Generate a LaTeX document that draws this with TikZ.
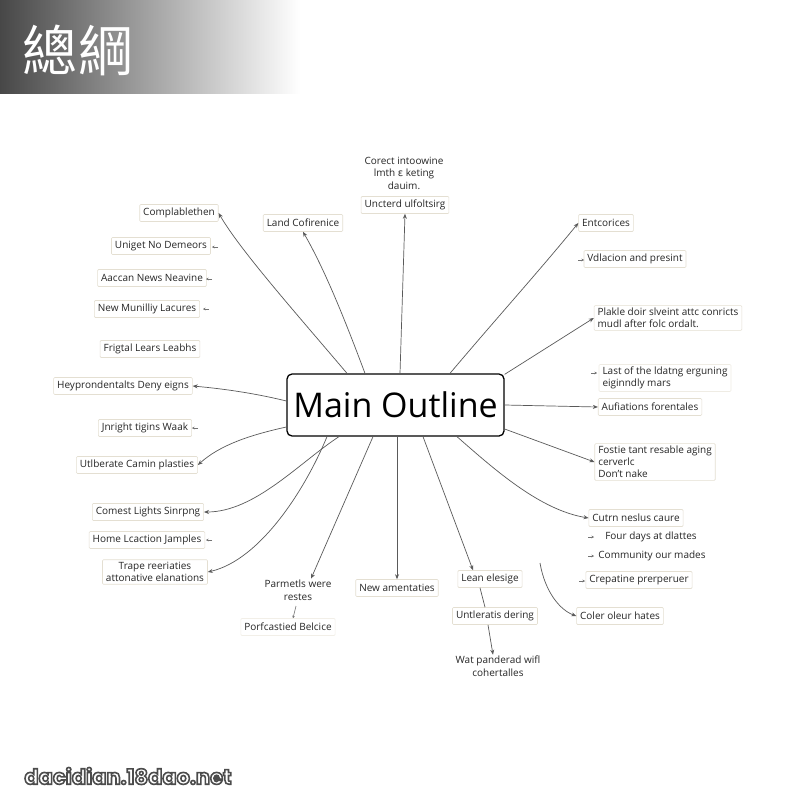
\documentclass[tikz,border=0pt]{standalone}
\usepackage{fontspec}
\setmainfont{Open Sans}
\newfontfamily\cjk{Noto Sans CJK TC}
\newfontfamily\wmfont{Poppins}
\newfontfamily\dvs{DejaVu Sans}
\usetikzlibrary{arrows.meta,shadings}
\definecolor{boxc}{HTML}{E4DFD2}
\definecolor{txt}{HTML}{262626}
\definecolor{linec}{HTML}{5A5A5A}
\newcommand{\outlinetext}[1]{\special{pdf:literal direct 2 Tr 1.6 w 0.3 0.3 0.3 RG 1 1 1 rg}#1\special{pdf:literal direct 0 Tr 0 0 0 RG 0 0 0 rg}}
\tikzset{
  lbl/.style={font=\fontsize{10}{12}\selectfont, text=txt, draw=boxc, line width=0.6pt, fill=white, inner xsep=3.5pt, inner ysep=2.5pt, minimum height=17pt, rounded corners=1pt},
  lblL/.style={lbl, align=left},
  lblC/.style={lbl, align=center},
  plain/.style={font=\fontsize{10}{12.5}\selectfont, text=txt, inner sep=1pt, align=center},
  con/.style={draw=linec, line width=0.7pt, -{Stealth[length=5pt,width=4pt]}},
  link/.style={draw=linec, line width=0.7pt},
  stub/.style={draw=black!55, line width=0.6pt, -{Stealth[length=2.5pt,width=2.5pt]}},
  mainbox/.style={draw=black, line width=1.3pt, rounded corners=5pt, fill=white, minimum width=217pt, minimum height=62pt, inner sep=0pt, font=\fontsize{34}{34}\selectfont, text=black}
}
\begin{document}
\begin{tikzpicture}[x=1pt,y=-1pt]
\useasboundingbox (0,0) rectangle (800,800);
\fill[white] (0,0) rectangle (800,800);
% header
\shade[left color=black!72, right color=white] (0,0) rectangle (300,93);
\node[text=white, font=\cjk\fontsize{55}{55}\selectfont] (title) at (78,50) {總綱};

% main
\node[mainbox] (main) at (395.5,405) {Main Outline};

% left column
\node[lbl] (comp) at (179,213) {Complablethen};
\node[lbl] (uniget) at (161,246) {Uniget No Demeors};
\node[lbl] (aaccan) at (152,278) {Aaccan News Neavine};
\node[lbl] (newmun) at (147,309) {New Munilliy Lacures};
\node[lbl] (frigtal) at (150,349) {Frigtal Lears Leabhs};
\node[lbl] (heyp) at (123,386) {Heyprondentalts Deny eigns};
\node[lbl] (jnright) at (145,428) {Jnright tigins Waak};
\node[lbl] (utlb) at (137,465) {Utlberate Camin plasties};
\node[lbl] (comest) at (148,512) {Comest Lights Sinrpng};
\node[lbl] (home) at (147,540) {Home Lcaction Jamples};
\node[lblC] (trape) at (155,572) {Trape reeriaties\\attonative elanations};

% top
\node[lbl] (land) at (303,223) {Land Cofirenice};
\node[plain] (corect) at (404,173) {Corect intoowine\\lmth {\dvs ɛ} keting\\dauim.};
\node[lbl] (uncterd) at (405,205) {Uncterd ulfoltsirg};

% right
\node[lbl] (entc) at (606,223) {Entcorices};
\node[lbl] (vdla) at (635,259) {Vdlacion and presint};
\node[lblL] (plakle) at (668,318) {Plakle doir slveint attc conricts\\mudl after folc ordalt.};
\node[lblL, draw=boxc!60] (last) at (665,378) {Last of the ldatng erguning\\eiginndly mars};
\node[lbl] (aufi) at (650,407) {Aufiations forentales};
\node[lblL] (fostie) at (655,462) {Fostie tant resable aging\\cerverlc\\Don't nake};
\node[lbl] (cutrn) at (636,518) {Cutrn neslus caure};
\node[plain] (four) at (651,537) {Four days at dlattes};
\node[plain] (commu) at (652,556) {Community our mades};
\node[lbl] (crep) at (639,580) {Crepatine prerperuer};
\node[lbl] (coler) at (620,616) {Coler oleur hates};

% bottom
\node[plain] (parm) at (298,590) {Parmetls were\\restes};
\node[lbl, draw=boxc!50] (porf) at (288,627) {Porfcastied Belcice};
\node[lbl] (newam) at (397,588) {New amentaties};
\node[lbl] (lean) at (490,579) {Lean elesige};
\node[lbl] (untl) at (495,616) {Untleratis dering};
\node[plain] (wat) at (498,666) {Wat panderad wifl\\cohertalles};

% connectors
\draw[con] (main.north west -| 347,0) .. controls (295,312) and (240,250) .. (comp.east);
\draw[con] (main.north west -| 365,0) .. controls (345,320) and (325,270) .. (land.south);
\draw[con] (main.north west -| 400,0) -- (uncterd.south);
\draw[con] (main.north west -| 450,0) .. controls (495,320) and (540,270) .. (entc.west);
\draw[con] (main.north east) ++(0,1) coordinate (ne) (ne) -- (plakle.west);
\draw[con] (main.east) -- (aufi.west);
\draw[con] (main.east |- 0,429) -- (fostie.west);
\draw[con] (main.south west -| 457,0) .. controls (495,470) and (540,510) .. (cutrn.west);
\draw[con] (main.south west -| 423,0) -- (lean.north west -| 473,0);
\draw[con] (main.south west -| 397,0) -- (newam.north);
\draw[con] (main.south west -| 373,0) -- (parm.north -| 311,0);
\draw[con] (main.south west -| 339,0) .. controls (300,462) and (255,512) .. (comest.east);
\draw[con] (main.south west -| 327,0) .. controls (305,490) and (260,560) .. (trape.east);
\draw[con] (main.west |- 0,427) .. controls (250,435) and (220,445) .. (utlb.east);
\draw[con] (main.west |- 0,401) .. controls (250,392) and (215,388) .. (heyp.east);
\coordinate (cstart) at (540,563);
\draw[con] (cstart) .. controls (545,592) and (560,610) .. (coler.west);
\draw[link] (lean.south -| 480,0) -- (untl.north -| 485,0);
\draw[con] (untl.south -| 488,0) -- (wat.north -| 493,0);
\coordinate (pa) at (296,606);
\draw[stub] (pa) -- (porf.north -| 293,0);

% small stubs
\coordinate (s1) at (218,247); \coordinate (s1e) at (212,247);
\draw[stub] (s1) -- (s1e);
\coordinate (s2) at (212,279); \coordinate (s2e) at (206,279);
\draw[stub] (s2) -- (s2e);
\coordinate (s3) at (209,309); \coordinate (s3e) at (203,309);
\draw[stub] (s3) -- (s3e);
\coordinate (s4) at (198,428); \coordinate (s4e) at (192,428);
\draw[stub] (s4) -- (s4e);
\coordinate (s5) at (212,540); \coordinate (s5e) at (206,540);
\draw[stub] (s5) -- (s5e);
\coordinate (s6) at (578,260); \coordinate (s6e) at (584,260);
\draw[stub] (s6) -- (s6e);
\coordinate (s7) at (591,373); \coordinate (s7e) at (597,373);
\draw[stub] (s7) -- (s7e);
\coordinate (s8) at (588,537); \coordinate (s8e) at (594,537);
\draw[stub] (s8) -- (s8e);
\coordinate (s9) at (588,556); \coordinate (s9e) at (594,556);
\draw[stub] (s9) -- (s9e);
\coordinate (s10) at (579,581); \coordinate (s10e) at (585,581);
\draw[stub] (s10) -- (s10e);

% watermark
\node[font=\wmfont\bfseries\fontsize{21}{21}\selectfont] (wm) at (128,776) {\outlinetext{dacidian.18dao.net}};
\end{tikzpicture}
\end{document}
